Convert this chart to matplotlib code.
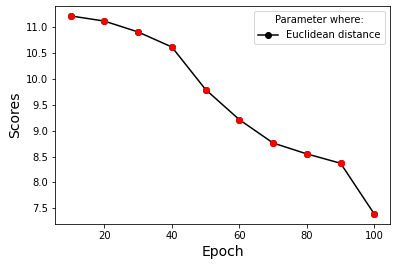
import matplotlib
matplotlib.use("Agg")
import matplotlib.pyplot as plt

epochs = [10, 20, 30, 40, 50, 60, 70, 80, 90, 100]
scores = [11.21, 11.11, 10.90, 10.61, 9.79, 9.21, 8.76, 8.55, 8.37, 7.39]

fig = plt.figure(figsize=(396/72, 266/72), dpi=72)
ax = fig.add_axes([55.5/396, 42/266, 334/396, 218/266])
ax.plot(epochs, scores, color='black', marker='o', markersize=6, label='Euclidean distance')
ax.plot(epochs, scores, linestyle='none', marker='o', color='red', markersize=6)
ax.set_xlabel('Epoch', fontsize=14)
ax.set_ylabel('Scores', fontsize=14)
ax.tick_params(labelsize=10)
ax.legend(title='Parameter where:', loc='upper right', fontsize=10, title_fontsize=10)
fig.savefig('out.png', dpi=72)
